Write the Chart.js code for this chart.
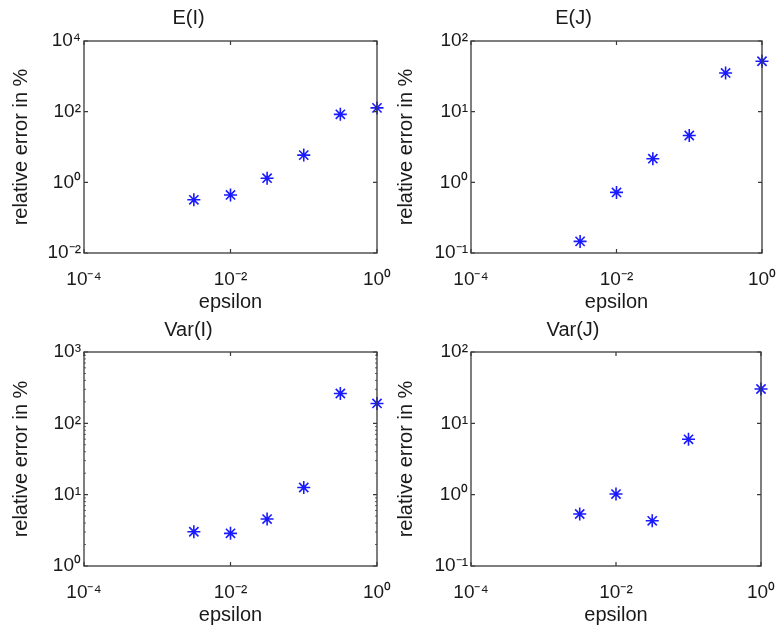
<!DOCTYPE html>
<html><head><meta charset="utf-8">
<script src="https://cdn.jsdelivr.net/npm/chart.js@4.4.1/dist/chart.umd.min.js"></script>
<style>
html,body{margin:0;padding:0;background:#fff;}
#wrap{position:relative;width:783px;height:635px;overflow:hidden;background:#fff;}
canvas{position:absolute;}
</style></head><body><div id="wrap">
<canvas id="c1" width="392" height="317" style="left:0px;top:0px"></canvas>
<canvas id="c2" width="398" height="317" style="left:385px;top:0px"></canvas>
<canvas id="c3" width="392" height="319" style="left:0px;top:311px"></canvas>
<canvas id="c4" width="398" height="319" style="left:385px;top:311px"></canvas>
</div>
<script>
// ---- data ----
const epsilon = [0.00316, 0.01, 0.0316, 0.1, 0.316, 1];
const epsilonVarJ = [0.00316, 0.01, 0.0316, 0.1, 1];
const errEI = [0.32, 0.44, 1.31, 5.9, 84, 128];
const errEJ = [0.146, 0.72, 2.16, 4.6, 35.3, 51.7];
const errVarI = [3.02, 2.87, 4.55, 12.6, 262, 190];
const errVarJ = [0.536, 1.02, 0.43, 5.97, 30.3];

const xTickValues = [1e-4, 1e-2, 1];
const xTickLabels = ['10\u207B\u2074', '10\u207B\u00B2', '10\u2070'];
const yTicksEI = [1e-2, 1, 1e2, 1e4];
const yLabelsEI = ['10\u207B\u00B2', '10\u2070', '10\u00B2', '10\u2074'];
const yTicksEJ = [1e-1, 1, 1e1, 1e2];
const yLabelsEJ = ['10\u207B\u00B9', '10\u2070', '10\u00B9', '10\u00B2'];
const yTicksVarI = [1, 1e1, 1e2, 1e3];
const yLabelsVarI = ['10\u2070', '10\u00B9', '10\u00B2', '10\u00B3'];
const yTicksVarJ = [1e-1, 1, 1e1, 1e2];
const yLabelsVarJ = ['10\u207B\u00B9', '10\u2070', '10\u00B9', '10\u00B2'];

const FONT = "'Liberation Sans', Arial, Helvetica, sans-serif";
const TXT = '#1a1a1a';

const boxPlugin = {
  id: 'boxTicks',
  afterDraw(chart) {
    const {ctx, chartArea: a, scales} = chart;
    ctx.save();
    ctx.strokeStyle = '#3a3a3a';
    ctx.lineWidth = 1.2;
    ctx.beginPath();
    scales.x.ticks.forEach(t => {
      const px = scales.x.getPixelForValue(t.value);
      ctx.moveTo(px, a.bottom); ctx.lineTo(px, a.bottom - 4);
      ctx.moveTo(px, a.top); ctx.lineTo(px, a.top + 4);
    });
    scales.y.ticks.forEach(t => {
      const py = scales.y.getPixelForValue(t.value);
      ctx.moveTo(a.left, py); ctx.lineTo(a.left + 4, py);
      ctx.moveTo(a.right, py); ctx.lineTo(a.right - 4, py);
    });
    ctx.stroke();
    if (chart.options.plugins.boxTicks && chart.options.plugins.boxTicks.minor) {
      ctx.lineWidth = 0.8;
      ctx.beginPath();
      const ys = scales.y;
      for (let e = Math.log10(ys.min); e < Math.log10(ys.max); e++) {
        for (let m = 2; m <= 9; m++) {
          const py = ys.getPixelForValue(m * Math.pow(10, e));
          ctx.moveTo(a.left, py); ctx.lineTo(a.left + 2, py);
          ctx.moveTo(a.right, py); ctx.lineTo(a.right - 2, py);
        }
      }
      ctx.stroke();
    }
    ctx.lineWidth = 1.3;
    ctx.strokeRect(a.left, a.top, a.right - a.left, a.bottom - a.top);
    ctx.restore();
  }
};

function makePanel(id, title, xs, ys, yMin, yMax, yTicks, yLabels, lay) {
  const pts = xs.map((x, i) => ({x: x, y: ys[i]}));
  new Chart(document.getElementById(id), {
    type: 'scatter',
    data: {datasets: [{
      data: pts,
      pointStyle: 'star',
      pointRadius: 6.5,
      pointBorderWidth: 1.6,
      borderColor: '#1a1aff',
      backgroundColor: '#1a1aff',
      clip: false
    }]},
    options: {
      responsive: false,
      animation: false,
      events: [],
      layout: {padding: {left: 0, right: lay.right, top: 0, bottom: 0}},
      plugins: {
        legend: {display: false},
        tooltip: {enabled: false},
        title: {display: true, text: title, color: TXT,
          font: {family: FONT, size: 20, weight: 'normal'},
          padding: {top: lay.tTop, bottom: lay.tBottom}},
        boxTicks: {minor: lay.minor}
      },
      scales: {
        x: {
          type: 'logarithmic', min: 1e-4, max: 1,
          afterBuildTicks: s => { s.ticks = xTickValues.map(v => ({value: v, major: true})); },
          afterFit: s => { s.height = lay.xH; s.paddingLeft = 0; s.paddingRight = 0; },
          grid: {display: false, drawTicks: false},
          border: {display: false},
          ticks: {autoSkip: false, maxRotation: 0, padding: lay.xTickPad, color: TXT,
            font: {family: FONT, size: 19},
            callback: (v, i) => xTickLabels[i]},
          title: {display: true, text: 'epsilon', color: TXT,
            font: {family: FONT, size: 20}, padding: {top: 0, bottom: lay.xTitlePad}}
        },
        y: {
          type: 'logarithmic', min: yMin, max: yMax,
          afterBuildTicks: s => { s.ticks = yTicks.map(v => ({value: v, major: true})); },
          afterFit: s => { s.width = lay.yW; s.paddingTop = 0; s.paddingBottom = 0; },
          grid: {display: false, drawTicks: false},
          border: {display: false},
          ticks: {autoSkip: false, padding: 3, color: TXT,
            font: {family: FONT, size: 19},
            callback: (v, i) => yLabels[i]},
          title: {display: true, text: 'relative error in %', color: TXT,
            font: {family: FONT, size: 20}, padding: {top: 9, bottom: 0}}
        }
      }
    },
    plugins: [boxPlugin]
  });
}

const row1 = {tTop: 6, tBottom: 11, xH: 64, xTickPad: 15, xTitlePad: 3};
const row2 = {tTop: 7, tBottom: 10, xH: 64, xTickPad: 15, xTitlePad: 3};

makePanel('c1', 'E(I)', epsilon, errEI, 1e-2, 1e4, yTicksEI, yLabelsEI,
  Object.assign({}, row1, {right: 15, yW: 84, minor: false}));
makePanel('c2', 'E(J)', epsilon, errEJ, 1e-1, 1e2, yTicksEJ, yLabelsEJ,
  Object.assign({}, row1, {right: 21, yW: 86, minor: false}));
makePanel('c3', 'Var(I)', epsilon, errVarI, 1, 1e3, yTicksVarI, yLabelsVarI,
  Object.assign({}, row2, {right: 15, yW: 84, minor: true}));
makePanel('c4', 'Var(J)', epsilonVarJ, errVarJ, 1e-1, 1e2, yTicksVarJ, yLabelsVarJ,
  Object.assign({}, row2, {right: 22, yW: 86, minor: false}));
</script>
</body></html>
